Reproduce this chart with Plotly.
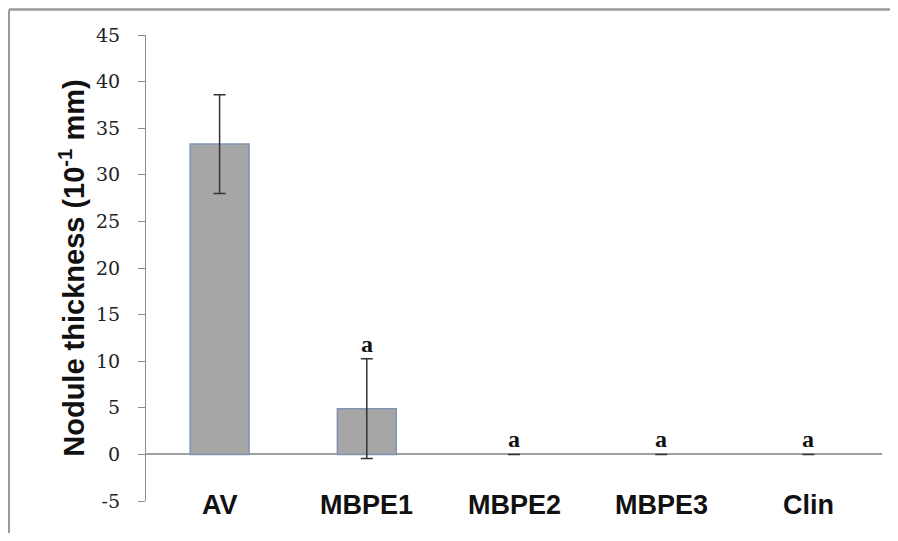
import plotly.graph_objects as go

categories = ["AV", "MBPE1", "MBPE2", "MBPE3", "Clin"]
thickness = [33.3, 4.9, 0.0, 0.0, 0.0]
errors = [5.3, 5.35, 0.0, 0.0, 0.0]
letters = ["", "a", "a", "a", "a"]
y_ticks = [-5, 0, 5, 10, 15, 20, 25, 30, 35, 40, 45]
y_tick_text = ["-5", "0", "5", "10", "15", "20", "25", "30", "35", "40", "45"]

# page body has an 8px margin; figure is placed at (8, 8)
OFF = 8
W, H = 882, 525
L, R, T, B = 146 - OFF, 8, 35 - OFF, 32

fig = go.Figure()
fig.add_trace(go.Bar(
    x=categories, y=thickness, width=0.4,
    marker=dict(color="#A6A6A6",
                line=dict(color="#8093AE", width=[1.5 if v else 0 for v in thickness])),
    error_y=dict(type="data", array=errors, visible=True, color="#333333",
                 thickness=1.5, width=6),
    showlegend=False,
))

annotations = []
for c, v, e, s in zip(categories, thickness, errors, letters):
    if s:
        annotations.append(dict(x=c, y=v + e, xref="x", yref="y", text="<b>%s</b>" % s,
                                showarrow=False, yanchor="bottom", yshift=0,
                                font=dict(family="Liberation Serif", size=24, color="#111111")))
    annotations.append(dict(x=c, y=0, xref="x", yref="paper", text="<b>%s</b>" % c,
                            showarrow=False, yanchor="middle", yshift=-4,
                            font=dict(family="Liberation Sans", size=27, color="#111111")))

pw, ph = W - L - R, H - T - B
def px_x(p):
    return (p - OFF - L) / pw
def px_y(p):
    return (H - B - (p - OFF)) / ph

shapes = [
    dict(type="line", xref="paper", yref="paper", x0=px_x(9), x1=px_x(900), y0=px_y(9.5), y1=px_y(9.5),
         line=dict(color="#9A9A9A", width=2.5)),
    dict(type="line", xref="paper", yref="paper", x0=px_x(9), x1=px_x(9), y0=px_y(9.5), y1=px_y(560),
         line=dict(color="#9A9A9A", width=2)),
]

fig.update_layout(
    width=W, height=H,
    margin=dict(l=L, r=R, t=T, b=B, pad=0),
    paper_bgcolor="white", plot_bgcolor="white",
    bargap=0.6,
    annotations=annotations,
    shapes=shapes,
    xaxis=dict(showticklabels=False, showgrid=False, showline=False, zeroline=False, ticks=""),
    yaxis=dict(range=[-5, 45], tickvals=y_ticks, ticktext=y_tick_text, showgrid=False,
               showline=True, linecolor="#8C8C8C", linewidth=1.2,
               ticks="outside", ticklen=7, tickcolor="#8C8C8C", tickwidth=1.2,
               ticklabelstandoff=14,
               zeroline=True, zerolinecolor="#A0A0A0", zerolinewidth=1.5,
               tickfont=dict(family="DejaVu Serif", size=19, color="#222222"),
               title=dict(text="<b>Nodule thickness (10<sup>-1</sup> mm)</b>",
                          font=dict(family="Liberation Sans", size=29, color="#111111"),
                          standoff=2)),
)

fig.write_html("out.html")
